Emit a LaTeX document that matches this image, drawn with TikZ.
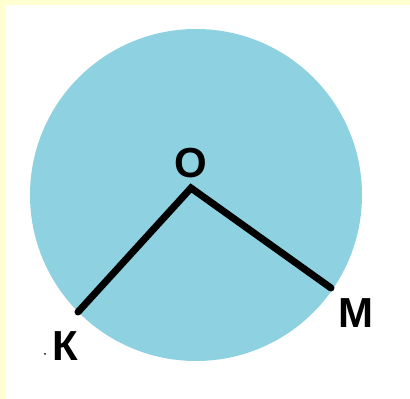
\documentclass[tikz,border=0pt]{standalone}
\usepackage{fontspec}
\setmainfont{Liberation Sans}
\begin{document}
\begin{tikzpicture}[x=1pt,y=1pt,
  lbl/.style={inner sep=0pt,font=\fontsize{42}{42}\selectfont\bfseries},
  radius line/.style={line width=7pt,line cap=round,black}]
\definecolor{bgyellow}{RGB}{255,255,208}
\definecolor{disk}{RGB}{142,210,226}
\useasboundingbox (0,0) rectangle (410,399);
\fill[white] (0,0) rectangle (410,399);
\fill[bgyellow] (0,0) rectangle (5,399);
\fill[bgyellow] (0,394) rectangle (410,399);
\fill[disk] (196,204) circle (166);
\coordinate (c) at (191,211);
\coordinate (k) at (78,87);
\coordinate (m) at (331,111);
\draw[radius line] (k) -- (c) -- (m);
\node[lbl] (O) at (191,236) {О};
\node[lbl] (K) at (65,53) {К};
\node[lbl] (M) at (356,86) {М};
\fill (45,45) circle (1);
\end{tikzpicture}
\end{document}
